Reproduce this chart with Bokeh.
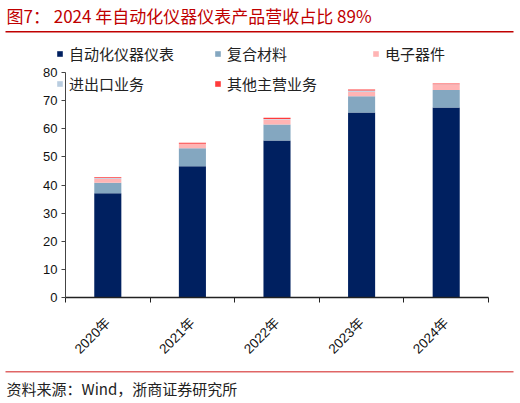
import math

from bokeh.plotting import figure
from bokeh.models import (Range1d, FixedTicker, Label, Legend, LegendItem,
                          BoxAnnotation, ColumnDataSource)
from bokeh.embed import file_html
from bokeh.resources import INLINE

# data (亿元)
years = ["2020年", "2021年", "2022年", "2023年", "2024年"]
series = ["自动化仪器仪表", "复合材料", "电子器件", "进出口业务", "其他主营业务"]
auto = [37.1, 46.7, 55.8, 65.8, 67.6]
composite = [3.7, 6.4, 5.7, 5.8, 6.2]
electronic = [1.4, 1.5, 1.8, 1.6, 1.9]
trade = [0.3, 0.1, 0.2, 0.4, 0.1]
other = [0.3, 0.3, 0.4, 0.4, 0.3]
yticks = [0, 10, 20, 30, 40, 50, 60, 70, 80]

colors = ["#002060", "#84A7C0", "#FFB4B4", "#B9CDE0", "#FF3B3B"]
CJK = "Noto Sans CJK SC"

W, H = 520, 403
# the frame fills the whole page so title, legend and source are not clipped;
# axes are pinned at 0 with bounds, plot area spans px 65..488 x, 72..297 y
px_x = (488 - 65) / len(years)
px_y = (297 - 72) / 80
x_range = Range1d(-65 / px_x, len(years) + (W - 488) / px_x)
y_range = Range1d(-(H - 297) / px_y, 297 / px_y)

xs = [i + 0.5 for i in range(len(years))]
src = ColumnDataSource(dict(x=xs, s0=auto, s1=composite, s2=electronic,
                            s3=trade, s4=other))

p = figure(width=W, height=H, x_range=x_range, y_range=y_range,
           output_backend="svg", toolbar_location=None, tools="",
           min_border=0)
p.outline_line_color = None
p.xgrid.visible = False
p.ygrid.visible = False

bars = p.vbar_stack(["s0", "s1", "s2", "s3", "s4"], x="x", width=0.32,
                    color=colors, line_color=None, source=src)

# x axis: labels under bars, ticks on category borders
p.xaxis.fixed_location = 0
p.xaxis.bounds = (0, len(years))
p.xaxis.ticker = FixedTicker(ticks=xs, minor_ticks=list(range(len(years) + 1)))
p.xaxis.major_label_overrides = {x: y for x, y in zip(xs, years)}
p.xaxis.major_label_orientation = math.pi / 4
p.xaxis.major_tick_out = 0
p.xaxis.major_tick_in = 0
p.xaxis.minor_tick_out = 5
p.xaxis.minor_tick_in = 0
p.xaxis.major_label_standoff = 18
p.xaxis.axis_line_color = "#222222"
p.xaxis.axis_line_width = 1.5
p.xaxis.minor_tick_line_color = "#222222"
p.xaxis.major_label_text_font = "Liberation Sans, " + CJK
p.xaxis.major_label_text_font_size = "13.5px"
p.xaxis.major_label_text_color = "#111111"

p.yaxis.fixed_location = 0
p.yaxis.bounds = (0, 80)
p.yaxis.ticker = FixedTicker(ticks=yticks)
p.yaxis.minor_tick_line_color = None
p.yaxis.major_tick_out = 4
p.yaxis.major_tick_in = 0
p.yaxis.axis_line_color = "#444444"
p.yaxis.major_tick_line_color = "#444444"
p.yaxis.major_label_text_font = "Liberation Sans"
p.yaxis.major_label_text_font_size = "13px"
p.yaxis.major_label_text_color = "#111111"
p.yaxis.major_label_standoff = 4

# legend, one box per item so the columns line up like the original
spots = [(56, 339), (214, 339), (372, 339), (56, 309), (214, 309)]
for r, name, (lx, ly) in zip(bars, series, spots):
    lg = Legend(items=[LegendItem(label=name, renderers=[r])],
                location=(lx, ly), padding=0, margin=0, spacing=0,
                glyph_width=7, glyph_height=7, label_standoff=6,
                label_height=15, border_line_color=None,
                background_fill_alpha=0,
                label_text_font=CJK, label_text_font_size="15px",
                label_text_color="#222222")
    p.add_layout(lg, "center")

# title, red rules and source line
p.add_layout(Label(x=6, y=388, x_units="screen", y_units="screen",
                   text="图7： 2024 年自动化仪器仪表产品营收占比 89%",
                   text_font=CJK, text_font_size="17px",
                   text_color="#C00000", text_baseline="middle"))
p.add_layout(BoxAnnotation(left=5, right=513, top=372.5, bottom=371,
                           left_units="screen", right_units="screen",
                           top_units="screen", bottom_units="screen",
                           fill_color="#C00000", fill_alpha=1,
                           line_color=None))
p.add_layout(BoxAnnotation(left=5, right=513, top=32.5, bottom=31,
                           left_units="screen", right_units="screen",
                           top_units="screen", bottom_units="screen",
                           fill_color="#E06666", fill_alpha=1,
                           line_color=None))
p.add_layout(Label(x=6, y=15, x_units="screen", y_units="screen",
                   text="资料来源：Wind，浙商证券研究所",
                   text_font=CJK, text_font_size="15px",
                   text_color="#222222", text_baseline="middle"))

open("out.html", "w").write(file_html(p, INLINE))
